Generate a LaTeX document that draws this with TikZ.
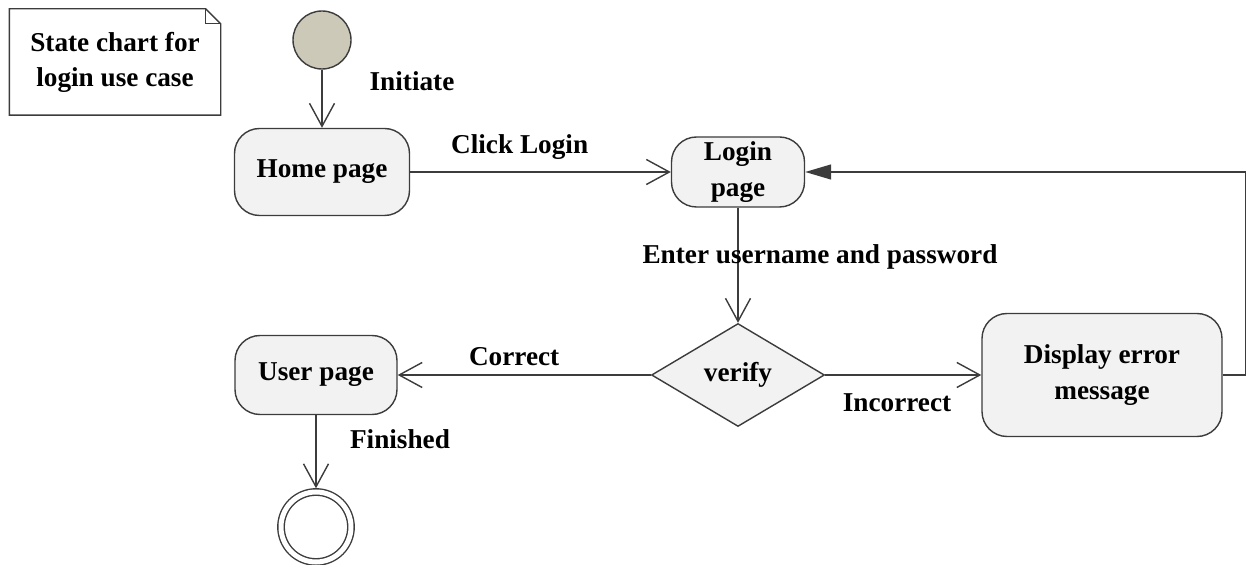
\documentclass[tikz,border=0pt]{standalone}
\usepackage{fontspec}
\setmainfont{Liberation Serif}
\usepackage{xcolor}
\usepackage{tikz}
\usetikzlibrary{arrows,positioning,shapes.geometric}
\usetikzlibrary{arrows.meta}
\tikzset{>={Straight Barb[length=4.6mm,width=5mm]}}
\definecolor{stategray}{HTML}{F2F2F2}
\definecolor{initgray}{HTML}{CDC9B9}
\definecolor{linegray}{HTML}{3C3C3C}

\begin{document}
\begin{tikzpicture}[->, thick, color=linegray, text=black, font=\bfseries\fontsize{15.5}{20}\selectfont]
	\tikzstyle{statebox}=[rectangle, rounded corners=0.5cm, fill=stategray, draw=linegray, thick, align=center, inner sep=0pt]
	\tikzstyle{decision}=[diamond, shape aspect=1.68, fill=stategray, draw=linegray, thick, inner sep=0pt, minimum width=3.46cm, minimum height=2.06cm]
	\tikzstyle{initstate}=[circle, fill=initgray, draw=linegray, thick, minimum size=1.16cm, inner sep=0pt]
	\tikzstyle{finalstate}=[circle, draw=linegray, double, double distance=0.1cm, minimum size=1.4cm, inner sep=0pt]
	\tikzstyle{notebox}=[align=center, minimum width=4.2cm, minimum height=2.1cm, inner sep=0pt]

	\useasboundingbox (0,0) rectangle (24.94,-11.3);

	\node[notebox] (note) at (2.3,-1.24) {State chart for\\login use case};
	\draw[-] (note.south west) -- (note.north west) -- ([xshift=-0.3cm]note.north east)
		-- ([yshift=-0.3cm]note.north east) -- (note.south east) -- cycle;
	\draw[-] ([xshift=-0.3cm]note.north east) |- ([yshift=-0.3cm]note.north east);

	\node[statebox, minimum width=3.5cm, minimum height=1.74cm] (home) at (6.44,-3.44) {Home page};
	\node[initstate] (init) [above of=home, node distance=2.64cm] {};
	\node[statebox, minimum width=2.66cm, minimum height=1.4cm] (login) [right of=home, node distance=8.32cm] {Login\\page};

	\path (init) edge node[pos=0.19, xshift=1.8cm] {Initiate} (home);
	\path (home) edge node[pos=0.42, yshift=0.5cm] {Click Login} (login);

	\node[decision] (verify) [below of=login, node distance=4.06cm] {verify};
	\node[statebox, minimum width=3.24cm, minimum height=1.58cm] (user) [left of=verify, node distance=8.44cm] {User page};
	\node[statebox, minimum width=4.8cm, minimum height=2.46cm] (error) [right of=verify, node distance=7.28cm] {Display error\\message};
	\node[finalstate] (final) [below of=user, node distance=3.04cm] {};

	\path (login) edge node[pos=0.43, xshift=1.64cm] {Enter username and password} (verify);
	\path (verify) edge node[pos=0.54, yshift=0.36cm] {Correct} (user);
	\path (verify) edge node[pos=0.46, yshift=-0.56cm] {Incorrect} (error);
	\path (user) edge [shorten >=0.06cm] node[pos=0.32, xshift=1.68cm] {Finished} (final);

	\draw[-{Triangle[length=5.2mm,width=3mm]}] (error.east) -- ++(0.46,0) |- (login.east);

	\end{tikzpicture}
\end{document}
